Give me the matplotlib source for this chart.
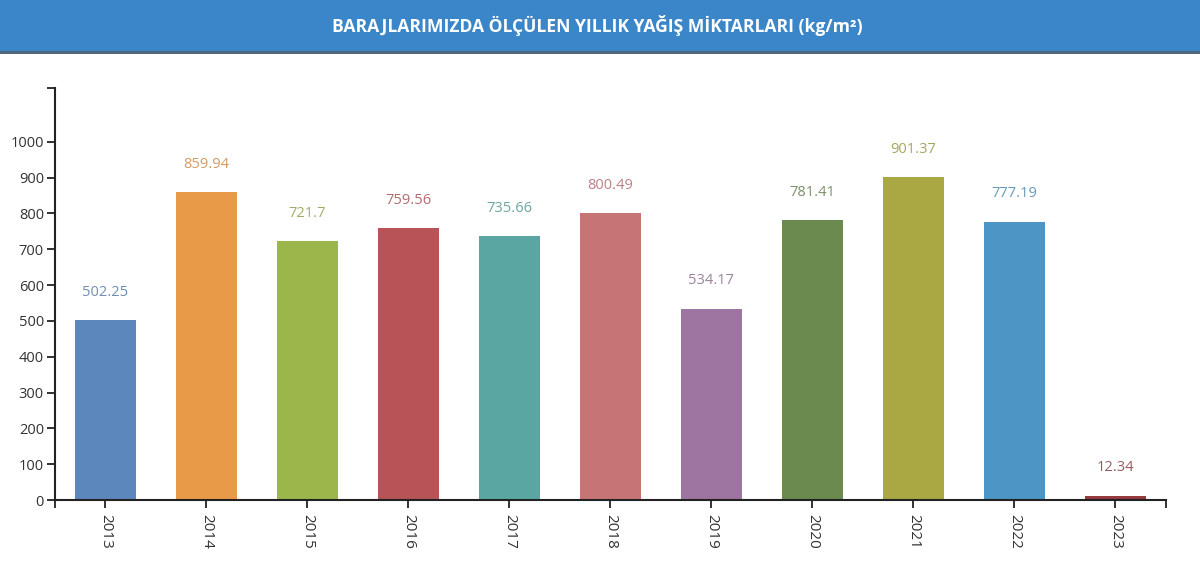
import matplotlib
matplotlib.use("Agg")
import matplotlib.pyplot as plt
from matplotlib.patches import Rectangle
from matplotlib.colors import to_rgb

years = ["2013", "2014", "2015", "2016", "2017", "2018", "2019", "2020", "2021", "2022", "2023"]
values = [502.25, 859.94, 721.7, 759.56, 735.66, 800.49, 534.17, 781.41, 901.37, 777.19, 12.34]
value_labels = ["502.25", "859.94", "721.7", "759.56", "735.66", "800.49", "534.17", "781.41", "901.37", "777.19", "12.34"]
bar_colors = ["#5b87bd", "#e89a49", "#9bb64a", "#b85457", "#5aa6a3", "#c77475", "#9e74a0", "#6b8a4f", "#a9a843", "#4b96c5", "#943b40"]
y_ticks = [0, 100, 200, 300, 400, 500, 600, 700, 800, 900, 1000]
title = "BARAJLARIMIZDA ÖLÇÜLEN YILLIK YAĞIŞ MİKTARLARI (kg/m²)"

plt.rcParams['font.family'] = ['Open Sans', 'DejaVu Sans']

fig = plt.figure(figsize=(12, 5.78), dpi=100)
fig.patch.set_facecolor("white")

# header band
hdr_h = 52 / 578
fig.patches.append(Rectangle((0, 1 - hdr_h), 1, hdr_h, transform=fig.transFigure,
                             facecolor="#3a86c8", edgecolor="none", zorder=0))
fig.patches.append(Rectangle((0, 1 - hdr_h - 2 / 578), 1, 3 / 578, transform=fig.transFigure,
                             facecolor="#50677c", edgecolor="none", zorder=0))
fig.text(597 / 1200, 1 - 25 / 578, title, color="white", fontsize=12.6, fontweight="bold",
         ha="center", va="center")

ax = fig.add_axes([55 / 1200, (578 - 500) / 578, (1166 - 55) / 1200, (500 - 88) / 578])
x = list(range(len(years)))
ax.bar(x, values, width=0.6, color=bar_colors, zorder=2)

for xi, v, lab, c in zip(x, values, value_labels, bar_colors):
    rgb = to_rgb(c)
    lc = tuple(0.68 * a + 0.32 * 0.62 for a in rgb)
    ax.annotate(lab, (xi, v), xytext=(0, 20), textcoords="offset points",
                ha="center", va="center", fontsize=10.5, color=lc)

ax.set_xlim(-0.5, len(years) - 0.5)
ax.set_ylim(0, 1150)
ax.set_yticks(y_ticks)
ax.set_yticklabels([str(t) for t in y_ticks])
ax.set_yticks([1150], minor=True)
ax.set_xticks(x)
ax.set_xticklabels(years, rotation=-90)
ax.set_xticks([-0.5, len(years) - 0.5], minor=True)

for s in ["top", "right"]:
    ax.spines[s].set_visible(False)
for s in ["left", "bottom"]:
    ax.spines[s].set_color("#222222")
    ax.spines[s].set_linewidth(1.5)
ax.tick_params(axis="both", which="both", length=6, width=1.3, color="#222222",
               labelsize=10.5, labelcolor="#333333")
ax.tick_params(axis="x", labelsize=11, pad=4)
ax.tick_params(axis="y", pad=2)

fig.savefig("out.png", dpi=100)
